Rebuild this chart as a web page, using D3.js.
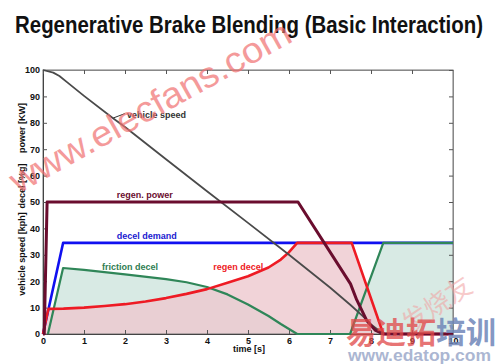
<!DOCTYPE html>
<html><head><meta charset="utf-8">
<script src="https://cdn.jsdelivr.net/npm/d3@7"></script>
<style>body{margin:0;background:#fff}svg{display:block}</style>
</head><body>
<svg id="c" width="500" height="364"></svg>
<script>
const titleText = "Regenerative Brake Blending (Basic Interaction)";
const xTicks = [0,1,2,3,4,5,6,7,8,9,10];
const yTicks = [0,10,20,30,40,50,60,70,80,90,100];

const speedT = [0,0.25,0.4,0.6,1,1.7,2,3,4,5,6,7,7.5,7.8,8.0,8.2,8.35];
const speedV = [100,99.0,97.7,95.2,90.2,81.8,78.4,66.2,54.1,42.1,30.0,17.6,11.0,6.8,3.6,1.2,0];

const powerT = [0,0.03,0.1,6.22,7.5,7.65,7.9,8.1,8.3,10];
const powerV = [0,0,50,50,19,13,5,1.5,0,0];

const demandT = [0,0.49,10];
const demandV = [0,34.5,34.5];

const frictionT = [0.12,0.49,1,2,3,3.5,4,4.5,5,5.5,5.8,6.2,7.49,8.3,10];
const frictionV = [0,25,24.3,22.6,20.8,19.6,17.8,15.0,11.2,6.8,3.8,0,0,34.5,34.5];

const regenT = [0,0.13,0.5,1,1.5,2,2.5,3,3.5,4,4.5,5,5.5,5.8,6.0,6.2,7.53,8.3,10];
const regenV = [0,9.5,9.6,10.0,10.6,11.3,12.3,13.6,15.2,17.0,19.4,21.9,25.2,28.2,31.0,34.5,34.5,0,0];

const svg = d3.select("#c");
const x = d3.scaleLinear().domain([0,10]).range([43,453]);
const y = d3.scaleLinear().domain([0,100]).range([334,70]);
const font = "Liberation Sans, Arial, sans-serif";

const zip = (T,V) => T.map((t,i)=>[t,V[i]]);

// title
svg.append("text").attr("x",15).attr("y",33).attr("font-family","'Liberation Sans Narrow', 'Liberation Sans', Arial, sans-serif")
  .attr("font-weight","bold").attr("font-size",24).attr("fill","#111")
  .attr("textLength",468).attr("lengthAdjust","spacingAndGlyphs").text(titleText);

// fills
const area = d3.area().x(d=>x(d[0])).y0(y(0)).y1(d=>y(d[1]));
svg.append("path").datum(zip(frictionT,frictionV)).attr("d",area).attr("fill","#d8eae4");
svg.append("path").datum(zip(regenT,regenV)).attr("d",area).attr("fill","#eec8ce").attr("opacity",0.8);

// frame & axes
const g = svg.append("g").attr("font-family",font).attr("font-weight","bold").attr("font-size",9);
g.append("rect").attr("x",x(0)).attr("y",y(100)).attr("width",x(10)-x(0)).attr("height",y(0)-y(100))
  .attr("fill","none").attr("stroke","#777").attr("stroke-width",1);
const xa = d3.axisBottom(x).tickValues(xTicks).tickSize(-4).tickPadding(4).tickFormat(d3.format("d"));
const ya = d3.axisLeft(y).tickValues(yTicks).tickSize(-4).tickPadding(3).tickFormat(d3.format("d"));
const gx = g.append("g").attr("transform",`translate(0,${y(0)})`).call(xa);
const gy = g.append("g").attr("transform",`translate(${x(0)},0)`).call(ya);
const gx2 = g.append("g").attr("transform",`translate(0,${y(100)})`).call(d3.axisTop(x).tickValues(xTicks).tickSize(-4).tickFormat(""));
const gy2 = g.append("g").attr("transform",`translate(${x(10)},0)`).call(d3.axisRight(y).tickValues(yTicks).tickSize(-4).tickFormat(""));
[gx,gy,gx2,gy2].forEach(a=>{a.select(".domain").attr("stroke","#444");a.selectAll(".tick line").attr("stroke","#555");a.selectAll("text").attr("fill","#111").attr("font-family",font).attr("font-weight","bold").attr("font-size",9);});
gx2.select(".domain").attr("stroke","#888"); gy2.select(".domain").attr("stroke","#888");

// axis labels
g.append("text").attr("x",249).attr("y",352).attr("text-anchor","middle").attr("fill","#111").text("time [s]");
[["power [KW]",128],["decel [%g]",186],["vehicle speed [kph]",254]].forEach(([t,cy])=>{
  g.append("text").attr("transform",`translate(25,${cy}) rotate(-90)`).attr("text-anchor","middle").attr("fill","#111").text(t);
});

// lines
const line = d3.line().x(d=>x(d[0])).y(d=>y(d[1]));
const addLine=(T,V,c,w)=>svg.append("path").datum(zip(T,V)).attr("d",line).attr("fill","none").attr("stroke",c).attr("stroke-width",w).attr("stroke-linejoin","round");
addLine(demandT,demandV,"#1010f0",2.6);
addLine(frictionT,frictionV,"#2f8658",2.2);
addLine(regenT,regenV,"#ee1b24",2.6);
addLine(speedT,speedV,"#4a4a4a",1.8);
addLine(powerT,powerV,"#6a0d2e",3);

// annotations
const ann = svg.append("g").attr("font-family",font).attr("font-weight","bold").attr("font-size",9);
ann.append("line").attr("x1",x(1.71)).attr("y1",y(81.8)).attr("x2",x(2.0)).attr("y2",y(83.5)).attr("stroke","#333").attr("stroke-width",1);
ann.append("text").attr("x",x(2.05)).attr("y",y(82.0)).attr("fill","#333").text("vehicle speed");
ann.append("text").attr("x",x(1.8)).attr("y",y(51.5)).attr("fill","#6a0d2e").text("regen. power");
ann.append("text").attr("x",x(1.8)).attr("y",y(36)).attr("fill","#1a1ad0").text("decel demand");
ann.append("text").attr("x",x(1.44)).attr("y",y(24.3)).attr("fill","#2f7d52").text("friction decel");
ann.append("text").attr("x",x(4.15)).attr("y",y(24.3)).attr("fill","#ee1b24").text("regen decel");

// watermarks
const wm = svg.append("g");
wm.append("text").attr("transform","translate(18,194) rotate(-29)").attr("font-family","'Liberation Sans', Arial, sans-serif")
  .attr("font-size",36).attr("fill","#f07070").attr("opacity",0.7).attr("textLength",316).attr("lengthAdjust","spacingAndGlyphs").text("www.elecfans.com");
wm.append("text").attr("transform","translate(442,312) rotate(-34)").attr("font-family","'Noto Sans CJK SC', sans-serif")
  .attr("font-size",26).attr("fill","#f2a0a0").attr("opacity",0.55).attr("text-anchor","middle").text("发烧友");
const cn = wm.append("text").attr("x",346).attr("y",343).attr("font-family","'Noto Sans CJK SC', sans-serif").attr("font-weight","bold")
  .attr("font-size",30);
cn.append("tspan").attr("fill","#e04848").attr("fill-opacity",0.75).text("易迪拓");
cn.append("tspan").attr("fill","#6f86b8").attr("fill-opacity",0.85).text("培训");
wm.append("text").attr("x",348).attr("y",361).attr("font-family","'Liberation Sans', Arial, sans-serif").attr("font-weight","bold")
  .attr("font-size",16).attr("fill","#8898c0").attr("opacity",0.7).attr("textLength",143).attr("lengthAdjust","spacingAndGlyphs").text("www.edatop.com");
</script>
</body></html>
